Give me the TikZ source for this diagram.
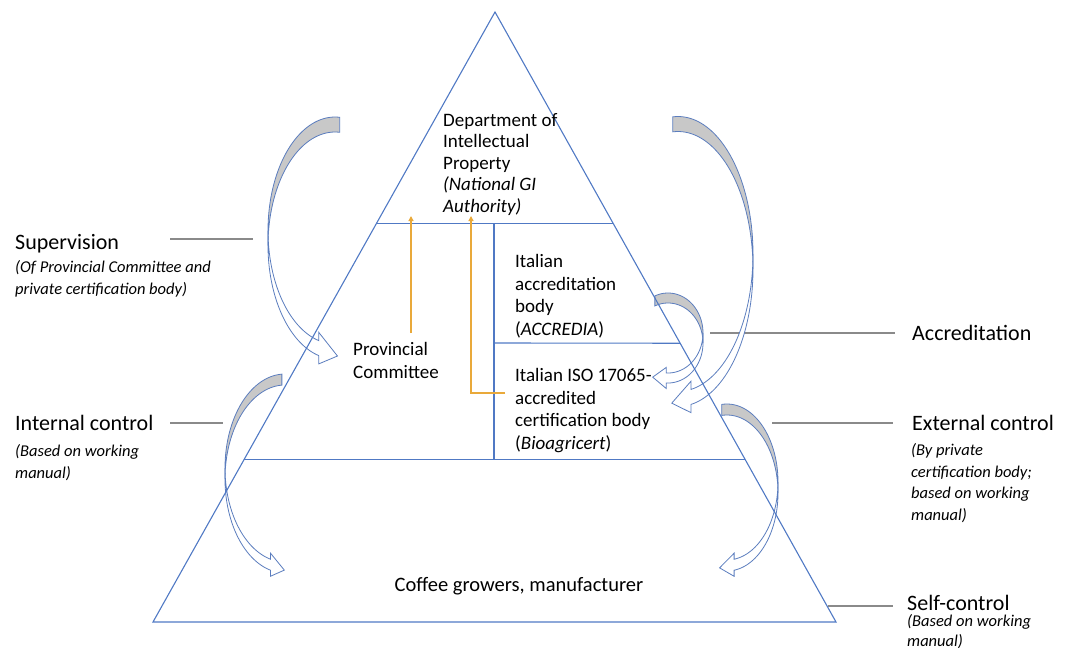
\documentclass[tikz,border=0pt]{standalone}
\usepackage{fontspec}
\setmainfont{Carlito}
\usetikzlibrary{arrows.meta,calc}
\definecolor{triblue}{HTML}{5079C4}
\definecolor{arrblue}{HTML}{5B7DBE}
\definecolor{backgray}{HTML}{C8C8C8}
\definecolor{leadgray}{HTML}{8A8A8A}
\definecolor{gold}{HTML}{E9A93A}

% curved band arrow: cx, cy, rx, ry, side (1 left, -1 right), start, end, band
\newcommand{\curvarr}[8]{%
  \pgfmathsetmacro\cvx{#1+(#5)*(#3)*cos(#7)}%
  \pgfmathsetmacro\cvya{#2-(#4)*sin(#7)}%
  \pgfmathsetmacro\cvyb{\cvya+#8}%
  \pgfmathsetmacro\cvtx{-(#5)*(#3)*sin(#7)}%
  \pgfmathsetmacro\cvty{-(#4)*cos(#7)}%
  \pgfmathsetmacro\cvn{veclen(\cvtx,\cvty)}%
  \pgfmathsetmacro\cvux{\cvtx/\cvn}%
  \pgfmathsetmacro\cvuy{\cvty/\cvn}%
  \pgfmathsetmacro\cvh{0.55*#8}%
  \pgfmathsetmacro\cvl{1.35*#8}%
  \filldraw[arrback] plot[domain=#6:180,samples=40,variable=\t] ({#1+(#5)*(#3)*cos(\t)},{#2-(#4)*sin(\t)})
    -- plot[domain=180:#6,samples=40,variable=\t] ({#1+(#5)*(#3)*cos(\t)},{#2+#8-(#4)*sin(\t)}) -- cycle;
  \filldraw[arrfront] plot[domain=180:#7,samples=40,variable=\t] ({#1+(#5)*(#3)*cos(\t)},{#2-(#4)*sin(\t)})
    -- ({\cvx},{\cvya-\cvh}) -- ({\cvx+\cvl*\cvux},{(\cvya+\cvyb)/2+\cvl*\cvuy})
    -- ({\cvx},{\cvyb+\cvh})
    -- plot[domain=#7:180,samples=40,variable=\t] ({#1+(#5)*(#3)*cos(\t)},{#2+#8-(#4)*sin(\t)}) -- cycle;
}

\begin{document}
\begin{tikzpicture}[x=1pt,y=-1pt,
  tri/.style={draw=triblue,line width=1.1pt},
  leader/.style={draw=leadgray,line width=1.4pt},
  arrback/.style={draw=arrblue,fill=backgray,line width=0.8pt},
  arrfront/.style={draw=arrblue,fill=white,line width=0.8pt},
  goldarr/.style={draw=gold,line width=1.2pt,-{Triangle[length=5pt,width=5pt]}},
  body/.style={font=\fontsize{19}{22.5}\selectfont,align=left,anchor=base west},
  lbl/.style={font=\fontsize{22}{26}\selectfont,anchor=base west},
  note/.style={font=\fontsize{16.5}{21.5}\selectfont\itshape,align=left,anchor=base west}]
\tikzstyle{every node}+=[inner sep=0pt]
\useasboundingbox (0,0) rectangle (1074,648);

% label leaders
\coordinate (supa) at (170,239);  \coordinate (supb) at (253,239);
\coordinate (inta) at (170,423);  \coordinate (intb) at (223,423);
\coordinate (acca) at (710,333);  \coordinate (accb) at (895,333);
\coordinate (exta) at (772,423);  \coordinate (extb) at (893,423);
\coordinate (selfa) at (828,606); \coordinate (selfb) at (893,606);
\draw[leader] (supa) -- (supb);
\draw[leader] (inta) -- (intb);
\draw[leader] (acca) -- (accb);
\draw[leader] (exta) -- (extb);
\draw[leader] (selfa) -- (selfb);

% curved arrows
\curvarr{335}{230.5}{67}{113.5}{1}{86}{256}{15}
\curvarr{285}{468}{60}{94}{1}{93}{256}{11}
\curvarr{668}{333}{35}{40}{-1}{68}{273}{10}
\curvarr{678}{254}{75}{137.5}{-1}{86}{260}{15}
\curvarr{727}{482}{51}{78}{-1}{84}{262}{11}

% pyramid
\coordinate (A) at (495,12);
\coordinate (L) at (153,622);
\coordinate (R) at (836,622);
\draw[tri] (A) -- (L) -- (R) -- cycle;
\draw[tri] ($(A)!0.346!(L)$) -- ($(A)!0.346!(R)$);
\draw[tri] ($(A)!0.734!(L)$) -- ($(A)!0.734!(R)$);
\draw[tri] (494,223) -- (494,460);
\draw[tri] (494,343) -- ($(A)!0.543!(R)$);

% texts inside (anchor on last line)
\node[body,font=\fontsize{19}{21.5}\selectfont] (dep) at (443,212) {Department of\\Intellectual\\Property\\\textit{(National GI}\\\textit{Authority)}};
\node[body] (accr) at (515,335) {Italian\\accreditation\\body\\(\textit{ACCREDIA})};
\node[body] (iso) at (515,449) {Italian ISO 17065-\\accredited\\certification body\\(\textit{Bioagricert})};
\node[body] (prov) at (353,378) {Provincial\\Committee};
\node[body,anchor=base,font=\fontsize{20.5}{24}\selectfont] (coffee) at (519,591) {Coffee growers, manufacturer};

% reporting lines
\coordinate (provup) at (411,333);
\coordinate (provtop) at (411,216);
\coordinate (isoin) at (505,393);
\coordinate (isotop) at (471,216);
\draw[goldarr] (provup) -- (provtop);
\draw[goldarr] (isoin) -| (isotop);

% side labels
\node[lbl] (sup) at (15,249) {Supervision};
\node[note] (supnote) at (15,294) {(Of Provincial Committee and\\private certification body)};
\node[lbl] (int) at (15,430) {Internal control};
\node[note] (intnote) at (15,478) {(Based on working\\manual)};
\node[lbl] (accl) at (912,340) {Accreditation};
\node[lbl] (ext) at (912,430) {External control};
\node[note] (extnote) at (911,520) {(By private\\certification body;\\based on working\\manual)};
\node[lbl] (self) at (907,610) {Self-control};
\node[note,font=\fontsize{16.5}{20}\selectfont\itshape] (selfnote) at (907,646) {(Based on working\\manual)};
\end{tikzpicture}
\end{document}
